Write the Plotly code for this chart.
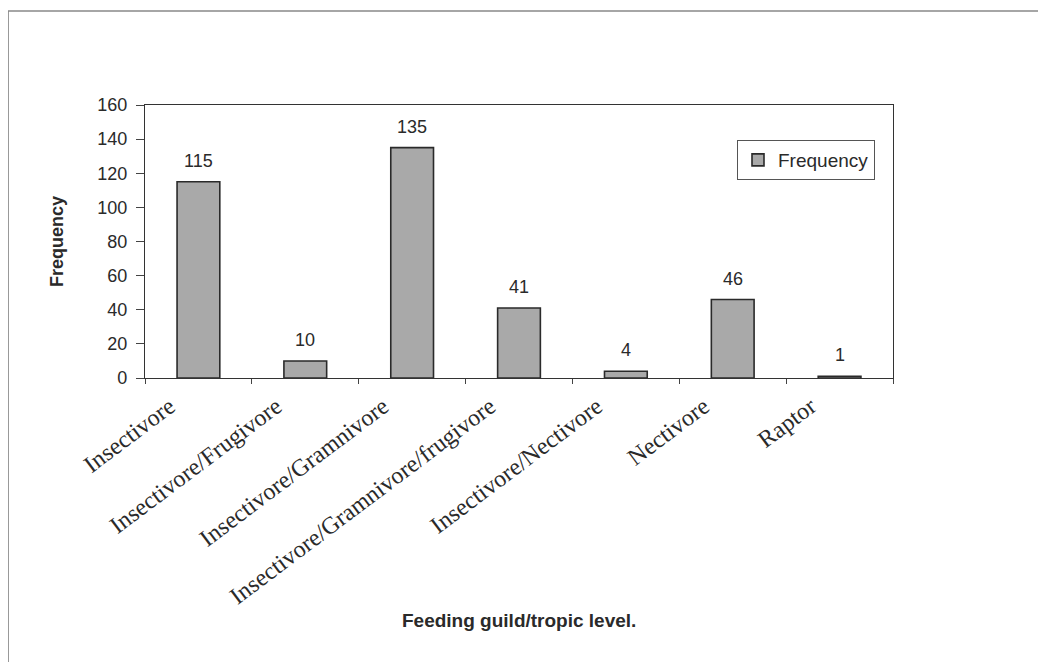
import plotly.graph_objects as go

categories = ["Insectivore", "Insectivore/Frugivore", "Insectivore/Gramnivore",
              "Insectivore/Gramnivore/frugivore", "Insectivore/Nectivore",
              "Nectivore", "Raptor"]
frequency = [115, 10, 135, 41, 4, 46, 1]
y_ticks = [0, 20, 40, 60, 80, 100, 120, 140, 160]

OFF = 8  # page body margin
W, H = 1046 - OFF, 662 - OFF
L, R, T, B = 145 - OFF, 893 - OFF, 105 - OFF, 378 - OFF
pw, ph = R - L, B - T

def px_x(x):
    return (x - OFF - L) / pw

def px_y(y):
    return (B - (y - OFF)) / ph

SANS = "Liberation Sans, Arial"
SERIF = "Liberation Serif, Times New Roman"
TXT = "#2a2a2a"

fig = go.Figure()
fig.add_trace(go.Bar(
    x=categories, y=frequency, name="Frequency",
    marker=dict(color="#a9a9a9", line=dict(color="#2a2a2a", width=1.6)),
    width=0.4,
))

for c, v in zip(categories, frequency):
    fig.add_annotation(x=c, y=v, text=str(v), showarrow=False, yanchor="middle",
                       yshift=21, font=dict(family=SANS, size=18, color=TXT))

fig.update_layout(
    width=W, height=H,
    margin=dict(l=L, r=W - R, t=T, b=H - B, autoexpand=False),
    paper_bgcolor="white", plot_bgcolor="white",
    showlegend=True,
    legend=dict(x=px_x(737), y=px_y(140), xanchor="left", yanchor="top",
                bordercolor="#555", borderwidth=1, bgcolor="white",
                font=dict(family=SANS, size=19, color=TXT),
                itemwidth=30, tracegroupgap=0),
)
fig.update_xaxes(
    type="category", showline=True, linecolor="#333", linewidth=1.2, mirror=True,
    ticks="outside", ticklen=5, tickcolor="#444", tickson="boundaries",
    tickangle=-37, showgrid=False,
    tickfont=dict(family=SERIF, size=24, color=TXT),
    ticklabelshift=-29, ticklabelstandoff=4,
)
fig.update_yaxes(
    range=[0, 160], tickvals=y_ticks, showline=True, linecolor="#333", linewidth=1.2,
    mirror=True, ticks="outside", ticklen=8, tickcolor="#444", showgrid=False,
    zeroline=False, ticklabelstandoff=5,
    tickfont=dict(family=SANS, size=18, color=TXT),
)

fig.add_annotation(text="<b>Frequency</b>", xref="paper", yref="paper",
                   x=px_x(45), y=px_y(242), textangle=-90, showarrow=False,
                   font=dict(family=SANS, size=18, color=TXT))
fig.add_annotation(text="<b>Feeding guild/tropic level.</b>", xref="paper", yref="paper",
                   x=px_x(519), y=px_y(633), showarrow=False,
                   font=dict(family=SANS, size=19, color=TXT))

# outer chart frame (left and top edges visible)
fig.add_shape(type="line", xref="paper", yref="paper",
              x0=px_x(8), y0=px_y(11), x1=px_x(8), y1=px_y(700),
              line=dict(color="#777", width=1.5))
fig.add_shape(type="line", xref="paper", yref="paper",
              x0=px_x(8), y0=px_y(11), x1=px_x(1100), y1=px_y(11),
              line=dict(color="#888", width=1.5))

fig.write_html("out.html")
